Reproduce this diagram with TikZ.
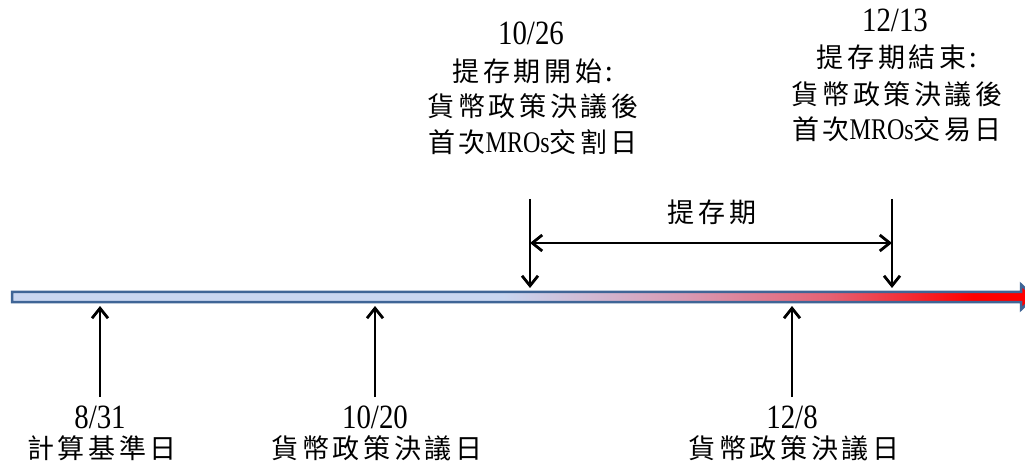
\documentclass[tikz,border=0pt]{standalone}
\usepackage{fontspec}
\newfontfamily\cjk[LetterSpace=13]{Noto Sans CJK TC}
\newfontfamily\lat[FakeStretch=0.85]{Liberation Serif}
\newfontfamily\latn[FakeStretch=0.8]{Liberation Serif}
\usetikzlibrary{arrows.meta}
\definecolor{barborder}{RGB}{63,101,150}
\pgfdeclarehorizontalshading{barshade}{100bp}{rgb(0bp)=(0.79,0.84,0.94); rgb(25bp)=(0.79,0.84,0.94); rgb(49bp)=(0.79,0.84,0.94); rgb(58bp)=(0.85,0.60,0.70); rgb(65bp)=(0.90,0.38,0.45); rgb(72bp)=(1,0,0); rgb(100bp)=(1,0,0)}
\tikzset{
  cj/.style={inner sep=0pt, anchor=base, font=\cjk\fontsize{27}{30}\selectfont},
  num/.style={inner sep=0pt, anchor=base, font=\lat\fontsize{34}{36}\selectfont},
  arr/.style={line width=2.8pt, -{Straight Barb[length=10pt,width=16pt]}},
  darr/.style={line width=2.8pt, {Straight Barb[length=10pt,width=16pt]}-{Straight Barb[length=10pt,width=16pt]}}
}
\newcommand{\mros}{{\latn\fontsize{30}{32}\selectfont MROs}}
\begin{document}
\begin{tikzpicture}[x=1pt,y=-1pt]
\useasboundingbox (0,0) rectangle (1025,470);
\fill[white] (0,0) rectangle (1025,470);
% timeline bar
\begin{scope}
\clip (0,0) rectangle (1025,470);
\path[shading=barshade, draw=barborder, line width=2.5pt, line join=miter]
  (12,292) -- (1021,292) -- (1021,284.5) -- (1034,297) -- (1021,309.5) -- (1021,302) -- (12,302) -- cycle;
\end{scope}
% coordinates
\coordinate (u1s) at (100,397); \coordinate (u1e) at (100,306);
\coordinate (u2s) at (375,397); \coordinate (u2e) at (375,306);
\coordinate (u3s) at (792,397); \coordinate (u3e) at (792,306);
\coordinate (d1s) at (530,199); \coordinate (d1e) at (530,288);
\coordinate (d2s) at (892,199); \coordinate (d2e) at (892,288);
\coordinate (p1) at (530,243); \coordinate (p2) at (892,243);
% arrows
\draw[arr] (u1s) -- (u1e);
\draw[arr] (u2s) -- (u2e);
\draw[arr] (u3s) -- (u3e);
\draw[arr] (d1s) -- (d1e);
\draw[arr] (d2s) -- (d2e);
\draw[darr] (p1) -- (p2);
% period label
\node[cj] (per) at (712,223) {提存期};
% top-left block
\node[num] (l1) at (531,45) {10/26};
\node[cj] (l2) at (533,82) {提存期開始:};
\node[cj] (l3) at (533,117) {貨幣政策決議後};
\node[cj] (l4) at (533,153) {首次\mros 交割日};
% top-right block
\node[num] (r1) at (895,32) {12/13};
\node[cj] (r2) at (897,68) {提存期結束:};
\node[cj] (r3) at (897,105) {貨幣政策決議後};
\node[cj] (r4) at (897,140) {首次\mros 交易日};
% bottom labels
\node[num] (b1) at (100,428) {8/31};
\node[cj] (b1t) at (102,458) {計算基準日};
\node[num] (b2) at (375,428) {10/20};
\node[cj] (b2t) at (377,458) {貨幣政策決議日};
\node[num] (b3) at (792,428) {12/8};
\node[cj] (b3t) at (794,458) {貨幣政策決議日};
\end{tikzpicture}
\end{document}
